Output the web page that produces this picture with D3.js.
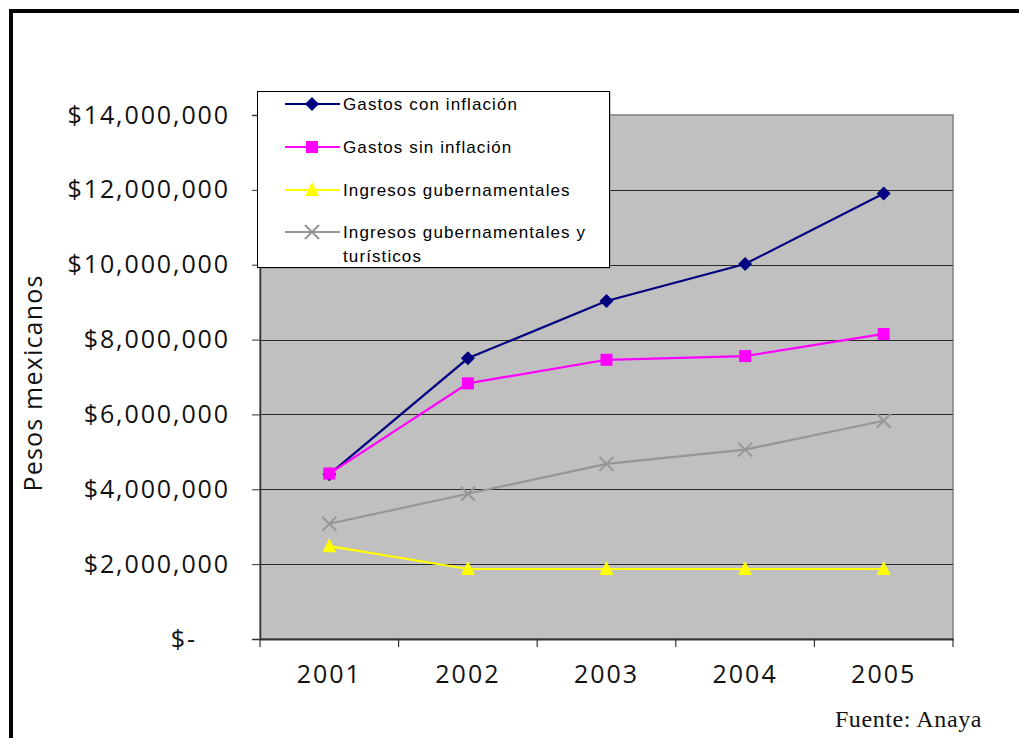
<!DOCTYPE html>
<html>
<head>
<meta charset="utf-8">
<script src="https://cdn.jsdelivr.net/npm/d3@7"></script>
<style>
  body { margin: 0; background: #fff; }
  svg { display: block; }
</style>
</head>
<body>
<svg id="chart"></svg>
<script>
// chart data
var years = ["2001", "2002", "2003", "2004", "2005"];
var gastosCon = [4400000, 7500000, 9030000, 10020000, 11900000];
var gastosSin = [4420000, 6830000, 7460000, 7560000, 8150000];
var ingresosGub = [2480000, 1870000, 1870000, 1870000, 1870000];
var ingresosTur = [3080000, 3880000, 4680000, 5060000, 5830000];
var yTicks = [0, 2000000, 4000000, 6000000, 8000000, 10000000, 12000000, 14000000];

var series = [
  { name: "Gastos con inflación", vals: gastosCon, color: "#000080", marker: "diamond" },
  { name: "Gastos sin inflación", vals: gastosSin, color: "#ff00ff", marker: "square" },
  { name: "Ingresos gubernamentales", vals: ingresosGub, color: "#ffff00", marker: "triangle" },
  { name: "Ingresos gubernamentales y turísticos", vals: ingresosTur, color: "#969696", marker: "cross" }
];

var width = 1019, height = 738;
var plot = { left: 260, right: 953, top: 115, bottom: 639 };
var axisFont = "'Open Sans', 'DejaVu Sans', sans-serif";

var svg = d3.select("#chart")
  .attr("width", width)
  .attr("height", height);

// outer frame (top and left only visible)
svg.append("line").attr("x1", 11).attr("x2", width).attr("y1", 11).attr("y2", 11)
  .attr("stroke", "#000").attr("stroke-width", 4);
svg.append("line").attr("x1", 11).attr("x2", 11).attr("y1", 9).attr("y2", height)
  .attr("stroke", "#000").attr("stroke-width", 4);

var x = d3.scaleBand().domain(years).range([plot.left, plot.right]);
var y = d3.scaleLinear().domain([0, 14000000]).range([plot.bottom, plot.top]);

// plot background
svg.append("rect")
  .attr("x", plot.left).attr("y", plot.top)
  .attr("width", plot.right - plot.left).attr("height", plot.bottom - plot.top)
  .attr("fill", "#c0c0c0")
  .attr("stroke", "#808080").attr("stroke-width", 1.5);

// gridlines
svg.append("g").selectAll("line")
  .data(yTicks.slice(1, -1))
  .enter().append("line")
    .attr("x1", plot.left).attr("x2", plot.right)
    .attr("y1", function(d) { return Math.round(y(d)) + 0.5; })
    .attr("y2", function(d) { return Math.round(y(d)) + 0.5; })
    .attr("stroke", "#2a2a2a").attr("stroke-width", 1.2);

// y axis
var fmt = function(d) { return d === 0 ? "$-" : "$" + d3.format(",")(d); };
var yAxis = svg.append("g")
  .attr("transform", "translate(" + plot.left + ",0)")
  .call(d3.axisLeft(y).tickValues(yTicks).tickFormat(fmt).tickSize(8).tickPadding(22));
yAxis.select(".domain").attr("stroke", "#333").attr("stroke-width", 1.5);
yAxis.selectAll(".tick line").attr("stroke", "#333");
yAxis.selectAll("text")
  .attr("font-family", axisFont)
  .attr("font-size", 25)
  .attr("letter-spacing", 1.9)
  .attr("fill", "#111");
yAxis.selectAll(".tick").filter(function(d) { return d === 0; }).select("text")
  .attr("dx", -33);

// x axis
var xAxis = svg.append("g")
  .attr("transform", "translate(0," + plot.bottom + ")")
  .call(d3.axisBottom(x).tickSize(0).tickPadding(26));
xAxis.select(".domain").attr("stroke", "#333").attr("stroke-width", 2);
xAxis.selectAll("text")
  .attr("font-family", axisFont)
  .attr("font-size", 25)
  .attr("letter-spacing", 2)
  .attr("fill", "#111");
// x tick marks at category boundaries
var bounds = years.map(function(d) { return x(d); }).concat([plot.right]);
svg.append("g").selectAll("line")
  .data(bounds)
  .enter().append("line")
    .attr("x1", function(d) { return d; }).attr("x2", function(d) { return d; })
    .attr("y1", plot.bottom).attr("y2", plot.bottom + 8)
    .attr("stroke", "#333").attr("stroke-width", 1.2);

// y axis title
svg.append("text")
  .attr("transform", "translate(42,383) rotate(-90)")
  .attr("text-anchor", "middle")
  .attr("font-family", axisFont)
  .attr("font-size", 25)
  .attr("letter-spacing", 1.2)
  .attr("fill", "#111")
  .text("Pesos mexicanos");

// source
svg.append("text")
  .attr("x", 982).attr("y", 727)
  .attr("text-anchor", "end")
  .attr("font-family", "'Liberation Serif', serif")
  .attr("font-size", 24)
  .attr("letter-spacing", 0.6)
  .attr("fill", "#111")
  .text("Fuente: Anaya");

// markers
function drawMarker(g, type, color, cx, cy) {
  if (type === "diamond") {
    g.append("path")
      .attr("d", "M" + cx + "," + (cy - 7) + "L" + (cx + 7) + "," + cy + "L" + cx + "," + (cy + 7) + "L" + (cx - 7) + "," + cy + "Z")
      .attr("fill", color);
  } else if (type === "square") {
    g.append("rect").attr("x", cx - 6).attr("y", cy - 6).attr("width", 12).attr("height", 12)
      .attr("fill", color);
  } else if (type === "triangle") {
    g.append("path")
      .attr("d", "M" + cx + "," + (cy - 8) + "L" + (cx + 7) + "," + (cy + 6) + "L" + (cx - 7) + "," + (cy + 6) + "Z")
      .attr("fill", color);
  } else {
    g.append("path")
      .attr("d", "M" + (cx - 7) + "," + (cy - 7) + "L" + (cx + 7) + "," + (cy + 7) + "M" + (cx + 7) + "," + (cy - 7) + "L" + (cx - 7) + "," + (cy + 7))
      .attr("stroke", color).attr("stroke-width", 2).attr("fill", "none");
  }
}

var line = d3.line()
  .x(function(d, i) { return x(years[i]) + x.bandwidth() / 2; })
  .y(function(d) { return y(d); });

// draw series so that the first one ends on top like the original
var order = [3, 2, 0, 1];
order.forEach(function(k) {
  var s = series[k];
  var g = svg.append("g").attr("class", "series");
  g.append("path")
    .datum(s.vals)
    .attr("d", line)
    .attr("fill", "none")
    .attr("stroke", s.color)
    .attr("stroke-width", 2.2);
  s.vals.forEach(function(v, i) {
    drawMarker(g, s.marker, s.color, x(years[i]) + x.bandwidth() / 2, y(v));
  });
});

// legend
var lg = svg.append("g");
lg.append("rect").attr("x", 258.5).attr("y", 92.5).attr("width", 352).attr("height", 176)
  .attr("fill", "#888");
lg.append("rect").attr("x", 257.5).attr("y", 91.5).attr("width", 352).attr("height", 176)
  .attr("fill", "#fff").attr("stroke", "#000").attr("stroke-width", 1);
var rowY = [104, 147, 190, 232];
series.forEach(function(s, i) {
  var ry = rowY[i];
  lg.append("line").attr("x1", 285).attr("x2", 340).attr("y1", ry).attr("y2", ry)
    .attr("stroke", s.color).attr("stroke-width", 2.2);
  drawMarker(lg, s.marker, s.color, 312, ry);
  var t = lg.append("text")
    .attr("x", 343).attr("y", ry + 6)
    .attr("font-family", "'Liberation Sans', Arial, sans-serif")
    .attr("font-size", 17)
    .attr("letter-spacing", 1.1)
    .attr("fill", "#000");
  if (i === 3) {
    t.append("tspan").attr("x", 343).text("Ingresos gubernamentales y");
    t.append("tspan").attr("x", 343).attr("dy", 24).text("turísticos");
  } else {
    t.text(s.name);
  }
});
</script>
</body>
</html>
